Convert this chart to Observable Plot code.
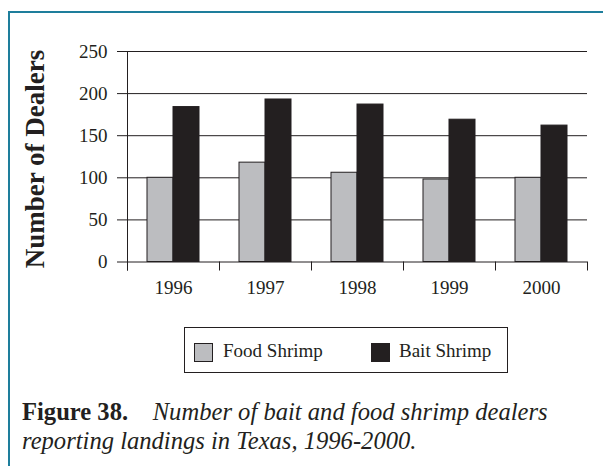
<!DOCTYPE html>
<html>
<head>
<meta charset="utf-8">
<script src="https://cdn.jsdelivr.net/npm/d3@7"></script>
<script src="https://cdn.jsdelivr.net/npm/@observablehq/plot@0.6"></script>
<style>
  html, body { margin: 0; padding: 0; background: #fff; }
  #wrap { position: relative; width: 603px; height: 466px; overflow: hidden; background: #fff; font-family: "Liberation Serif", serif; color: #231f20; }
  #border { position: absolute; left: 8px; top: 11px; width: 700px; height: 600px; border-left: 2px solid #1e7e9c; border-top: 2px solid #1e7e9c; box-sizing: border-box; }
  #chart { position: absolute; left: 0; top: 0; }
  #ylabel { position: absolute; left: 35px; top: 158.5px; transform: translate(-50%, -50%) rotate(-90deg); white-space: nowrap; font-weight: bold; font-size: 27px; }
  #legend { position: absolute; left: 184px; top: 327px; width: 324px; height: 46px; border: 1px solid #231f20; box-sizing: border-box; font-size: 19px; }
  .sw { position: absolute; top: 15px; width: 19px; height: 19px; border: 1px solid #231f20; box-sizing: border-box; }
  .lt { position: absolute; top: 11px; line-height: 24px; white-space: nowrap; }
  #caption { position: absolute; left: 22px; top: 397px; font-size: 24.6px; line-height: 29px; white-space: nowrap; }
  #caption b { font-weight: bold; }
</style>
</head>
<body>
<div id="wrap">
  <div id="border"></div>
  <div id="chart"></div>
  <div id="ylabel"></div>
  <div id="legend"></div>
  <div id="caption"></div>
</div>
<script>
const years = ["1996", "1997", "1998", "1999", "2000"];
const types = ["Food Shrimp", "Bait Shrimp"];
const food = [100, 118, 106, 98, 100];
const bait = [184, 193, 187, 169, 162];
const yTicks = [0, 50, 100, 150, 200, 250];
const colors = ["#bcbdc0", "#231f20"];
const yLabel = "Number of Dealers";
const captionBold = "Figure 38.";
const captionText = "Number of bait and food shrimp dealers reporting landings in Texas, 1996-2000.";

const rows = years.flatMap((yr, i) => [
  {year: yr, type: types[0], value: food[i]},
  {year: yr, type: types[1], value: bait[i]}
]);

const plot = Plot.plot({
  width: 603,
  height: 310,
  marginTop: 51,
  marginBottom: 48.5,
  marginLeft: 125,
  marginRight: 15,
  style: {fontFamily: "Liberation Serif", fontSize: "19px", color: "#231f20", background: "transparent"},
  fx: {domain: years, paddingInner: 0, paddingOuter: 0, label: null, axis: null},
  x: {domain: types, paddingInner: 0, paddingOuter: 0.715, axis: null},
  y: {domain: [0, 250], label: null},
  color: {domain: types, range: colors},
  marks: [
    Plot.gridY(yTicks, {stroke: "#231f20", strokeOpacity: 1, strokeWidth: 1}),
    Plot.barY(rows, {fx: "year", x: "type", y: "value", fill: "type", stroke: "#231f20", strokeWidth: 1}),
    Plot.axisY(yTicks, {anchor: "left", tickSize: 10, tickPadding: 10, label: null, stroke: "#231f20"}),
    Plot.axisFx({anchor: "bottom", tickSize: 0, tickPadding: 18, label: null})
  ]
});

// y-axis line and category boundary ticks, from the plot's own scales
const fx = plot.scale("fx");
const ys = plot.scale("y");
const y0 = ys.apply(0), yTop = ys.apply(250);
const edges = years.map(yr => fx.apply(yr));
edges.push(edges[edges.length - 1] + fx.bandwidth);
const g = d3.select(plot).append("g").attr("stroke", "#231f20").attr("stroke-width", 1);
g.append("line").attr("x1", edges[0] + 0.5).attr("x2", edges[0] + 0.5).attr("y1", yTop).attr("y2", y0 + 9);
g.selectAll("line.t").data(edges).join("line").attr("class", "t")
  .attr("x1", d => d + 0.5).attr("x2", d => d + 0.5).attr("y1", y0).attr("y2", y0 + 9);

document.getElementById("chart").appendChild(plot);
document.getElementById("ylabel").textContent = yLabel;

const legend = document.getElementById("legend");
const swX = [9, 186], txX = [38, 214];
types.forEach((t, i) => {
  const s = document.createElement("div");
  s.className = "sw"; s.style.left = swX[i] + "px"; s.style.background = colors[i];
  legend.appendChild(s);
  const l = document.createElement("div");
  l.className = "lt"; l.style.left = txX[i] + "px"; l.textContent = t;
  legend.appendChild(l);
});

const cap = document.getElementById("caption");
const b = document.createElement("b"); b.textContent = captionBold;
cap.appendChild(b);
const words = captionText.split(" ");
const line1 = words.slice(0, 7).join(" "), line2 = words.slice(7).join(" ");
const i1 = document.createElement("i"); i1.textContent = "\u2002\u2002" + line1;
cap.appendChild(i1);
cap.appendChild(document.createElement("br"));
const i2 = document.createElement("i"); i2.textContent = line2;
cap.appendChild(i2);
</script>
</body>
</html>
